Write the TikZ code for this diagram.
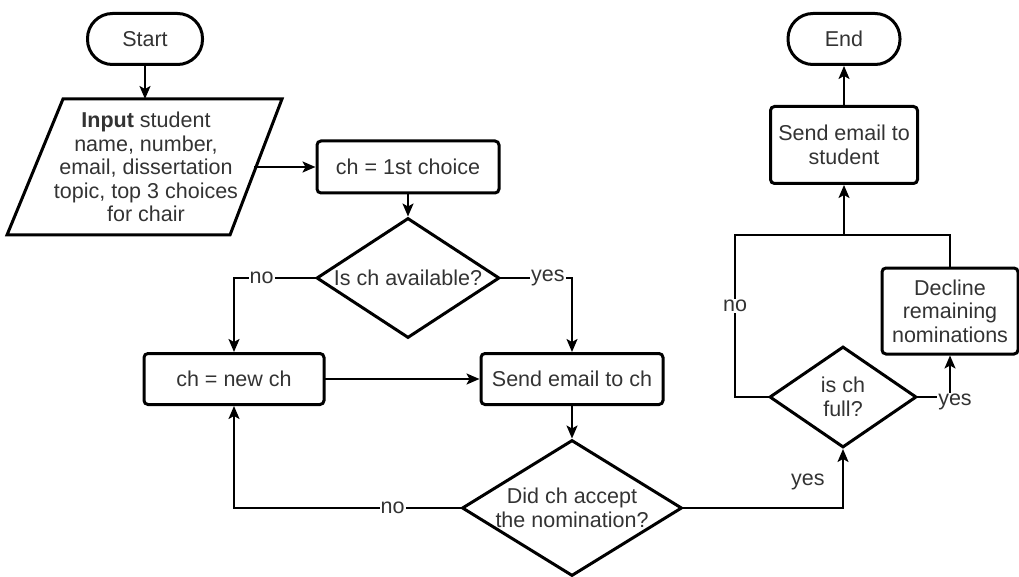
\documentclass[tikz,border=0pt]{standalone}
\usepackage{fontspec}
\setmainfont{Liberation Sans}
\usepackage{tikz}
\usetikzlibrary{shapes.geometric}
\usetikzlibrary{arrows.meta}

\begin{document}
\begin{tikzpicture}[x=1pt,y=-1pt,line cap=rect,
		every node/.style={font=\fontsize{21.5pt}{23.5pt}\selectfont, text=flowcol_33_33_33},
		box/.style={draw, line width=3.0pt, rounded corners=4pt, align=center, inner sep=0},
		term/.style={draw, line width=3.0pt, rounded corners=25pt, inner sep=0, minimum height=51pt},
		decision/.style={draw, diamond, line width=3.0pt, inner sep=0},
		flow/.style={line width=2.0pt, -{Stealth[length=13pt,width=11pt,inset=3pt]}},
		lbl/.style={fill=white, inner sep=1pt}]
						\definecolor{flowcol_33_33_33}{RGB}{51, 51, 51}
						\useasboundingbox (0.0,0.0) rectangle (1019.0,577.0);
						% left column
						\node[term, minimum width=115pt] (start) at (145.0,39.0) {Start};
						\draw [line width=3.0pt, line join=miter]  (7.0,235.0) -- (63.0,99.0) -- (282.0,99.0) -- (230.0,235.0) -- cycle;
						\node[align=center, inner sep=0] (inp) at (146.0,167.0) {\textbf{Input} student\\name, number,\\email, dissertation\\topic, top 3 choices\\for chair};
						\coordinate (inpT) at (145.0,99.0);
						\coordinate (inpR) at (255.0,167.0);
						\node[box, minimum width=182pt, minimum height=52pt] (first) at (408.0,167.0) {ch = 1st choice};
						\node[decision, minimum width=183pt, minimum height=120pt, label={center:Is ch available?}] (avail) at (408.0,278.0) {};
						\node[box, minimum width=180pt, minimum height=51pt] (newch) at (234.0,379.0) {ch = new ch};
						\node[box, minimum width=182pt, minimum height=51pt] (sendch) at (572.0,379.0) {Send email to ch};
						\node[decision, minimum width=220pt, minimum height=136pt, label={[align=center]center:Did ch accept\\the nomination?}] (accept) at (572.0,508.0) {};
						% right column
						\node[decision, minimum width=147pt, minimum height=101pt, label={[align=center]center:is ch\\full?}] (full) at (843.0,397.0) {};
						\node[box, minimum width=136pt, minimum height=86pt] (decline) at (950.0,311.0) {Decline\\remaining\\nominations};
						\node[box, minimum width=147pt, minimum height=77pt] (sendst) at (844.0,145.0) {Send email to\\student};
						\node[term, minimum width=112pt] (end) at (844.0,39.0) {End};
						\coordinate (noturn) at (735.0,235.0);
						% connectors
						\draw [flow]  (start.south) -- (inpT);
						\draw [flow]  (inpR) -- (first.west);
						\draw [flow]  (first.south) -- (avail.north);
						\draw [flow]  (avail.west) -| node[lbl, pos=0.33] {no} (newch.north);
						\draw [flow]  (avail.east) -| node[lbl, pos=0.33] {yes} (sendch.north);
						\draw [flow]  (newch.east) -- (sendch.west);
						\draw [flow]  (sendch.south) -- (accept.north);
						\draw [flow]  (accept.west) -| node[lbl, pos=0.15] {no} (newch.south);
						\draw [flow]  (accept.east) -| node[pos=0.72, left=14pt] {yes} (full.south);
						\draw [flow]  (full.east) -| node[lbl, pos=0.5, xshift=5pt, yshift=-5pt] {yes} (decline.south);
						\draw [flow]  (full.west) -| node[lbl, pos=0.78] {no} (noturn) -| (sendst.south);
						\draw [line width=2.0pt]  (decline.north) |- (sendst.south |- noturn);
						\draw [flow]  (sendst.north) -- (end.south);
					\end{tikzpicture}
\end{document}
